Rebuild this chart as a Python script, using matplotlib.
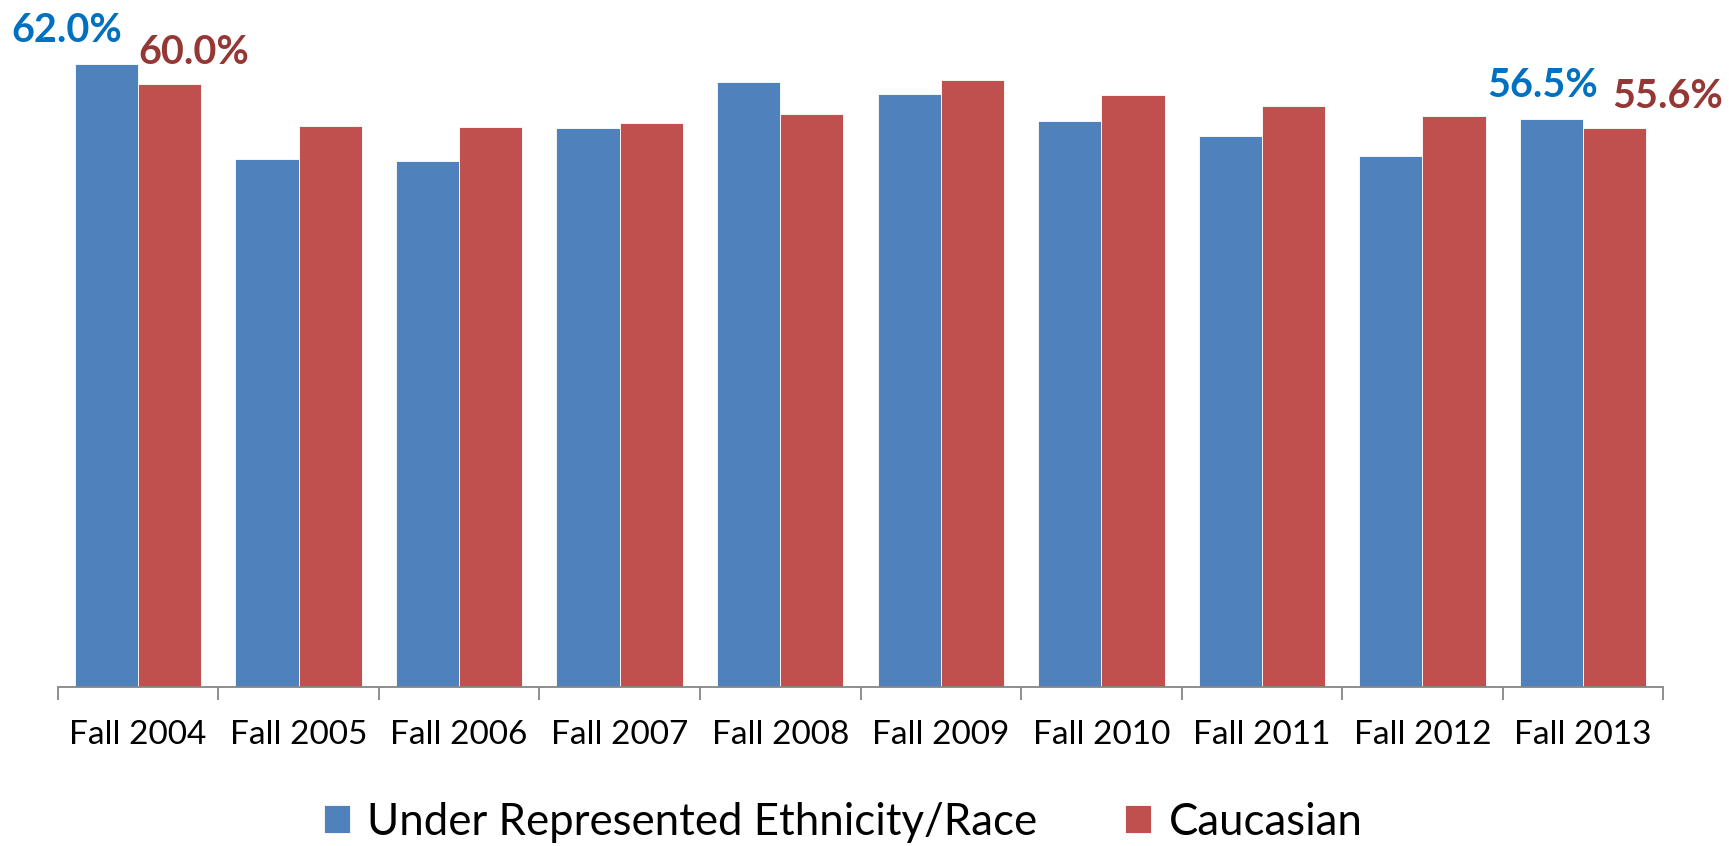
import matplotlib
matplotlib.use('Agg')
import matplotlib.pyplot as plt
import numpy as np

# values (percent)
years = ['Fall 2004', 'Fall 2005', 'Fall 2006', 'Fall 2007', 'Fall 2008',
         'Fall 2009', 'Fall 2010', 'Fall 2011', 'Fall 2012', 'Fall 2013']
urm = [62.0, 52.6, 52.4, 55.6, 60.2, 59.0, 56.3, 54.9, 52.9, 56.5]
caucasian = [60.0, 55.8, 55.7, 56.1, 57.0, 60.4, 58.9, 57.8, 56.8, 55.6]
series_names = ['Under Represented Ethnicity/Race', 'Caucasian']
labelled = [0, 9]  # only first and last year get value labels

plt.rcParams['font.family'] = ['Lato', 'DejaVu Sans']

blue = '#4F81BD'
red = '#C0504D'
blue_txt = '#0070C0'
red_txt = '#953735'

fig = plt.figure(figsize=(17.29, 8.46), dpi=100)
ax = fig.add_axes([57.7 / 1729, 0.1883, (1663.3 - 57.7) / 1729, 0.807])

x = np.arange(len(years))
w = 0.394
b1 = ax.bar(x - w / 2, urm, w, color=blue, edgecolor='white', linewidth=0.6,
            label=series_names[0])
b2 = ax.bar(x + w / 2, caucasian, w, color=red, edgecolor='white', linewidth=0.6,
            label=series_names[1])

ax.set_xlim(-0.5, len(years) - 0.5)
ax.set_ylim(0, 68)

# value labels, nudged sideways like the original
offsets = {0: (-40, 24), 9: (-9, 53)}
for i in labelled:
    dxb, dxr = offsets[i]
    ax.annotate(f'{urm[i]:.1f}%', (x[i] - w / 2, urm[i]), xytext=(dxb, 22),
                textcoords='offset pixels', ha='center', va='baseline',
                fontsize=28.5, fontweight='bold', color=blue_txt, annotation_clip=False)
    ax.annotate(f'{caucasian[i]:.1f}%', (x[i] + w / 2, caucasian[i]), xytext=(dxr, 20),
                textcoords='offset pixels', ha='center', va='baseline',
                fontsize=28.5, fontweight='bold', color=red_txt, annotation_clip=False)

# category boundaries as tick marks, labels centred under the groups
ax.set_xticks(np.arange(-0.5, len(years), 1))
ax.set_xticklabels([])
ax.set_xticks(x, minor=True)
ax.set_xticklabels(years, minor=True, fontsize=24)
ax.tick_params(axis='x', which='major', length=9, width=1.3, color='#868686')
ax.tick_params(axis='x', which='minor', length=0, pad=24)

ax.set_yticks([])
for s in ['top', 'right', 'left']:
    ax.spines[s].set_visible(False)
ax.spines['bottom'].set_color('#868686')
ax.spines['bottom'].set_linewidth(1.3)

fig.legend(handles=[b1, b2], loc='center', bbox_to_anchor=(0.4877, 0.028), ncol=2,
           frameon=False, fontsize=31.5, handlelength=0.6, handleheight=0.6,
           handletextpad=0.4, columnspacing=2.0)

fig.savefig('out.png', dpi=100)
plt.close(fig)
